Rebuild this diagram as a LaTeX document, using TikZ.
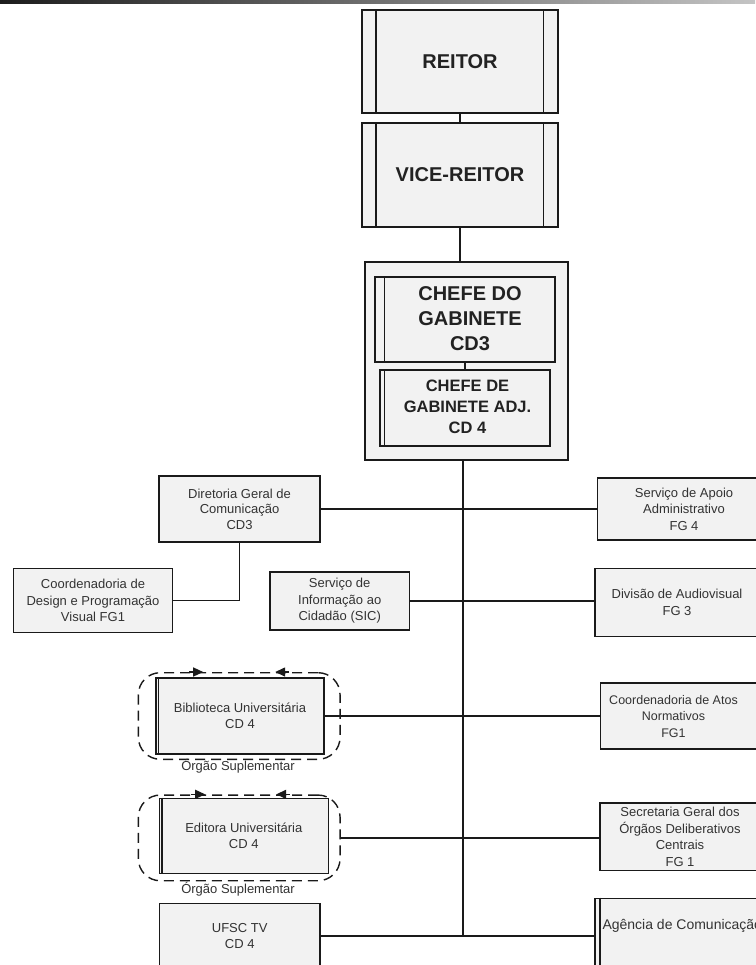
\documentclass[tikz,border=0pt]{standalone}
\usepackage{fontspec}
\setmainfont{Liberation Sans}
\usetikzlibrary{arrows.meta}
\definecolor{edge}{HTML}{1A1A1A}
\definecolor{boxfill}{HTML}{F2F2F2}
\definecolor{ink}{HTML}{333333}
\definecolor{inkdark}{HTML}{222222}
\definecolor{barleft}{HTML}{1C1C1C}
\definecolor{barright}{HTML}{C4C4C4}

\begin{document}
\begin{tikzpicture}[x=1pt,y=-1pt,
  box/.style={draw=edge, fill=boxfill, line width=1.4pt, inner sep=0pt, align=center,
              text=ink, font=\fontsize{13}{16.5}\selectfont},
  bigbox/.style={box, text=inkdark, font=\fontsize{20}{25}\selectfont\bfseries},
  bigtext/.style={inner sep=0pt, align=center, text=inkdark, font=\fontsize{20}{25}\selectfont\bfseries},
  midtext/.style={inner sep=0pt, align=center, text=inkdark, font=\fontsize{16.5}{21}\selectfont\bfseries},
  smalltext/.style={inner sep=0pt, align=center, text=ink, font=\fontsize{13}{16.5}\selectfont},
  wire/.style={draw=edge, line width=1.4pt},
  divider/.style={draw=edge, line width=1.4pt},
  suppl/.style={draw=edge, line width=1.4pt, dash pattern=on 10pt off 6pt,
                rounded corners=22pt, inner sep=0pt},
  flowtip/.style={draw=edge, line width=1.4pt, -{Triangle[length=10pt,width=9pt]}},
]
\useasboundingbox (0,0) rectangle (755,965);
\fill[white] (0,0) rectangle (755,965);
% title bar
\shade[left color=barleft, right color=barright] (0,0) rectangle (755,3.5);

% ---- top of the hierarchy ----
\node[bigbox, minimum width=196pt, minimum height=103pt] (reitor) at (460,61.5) {REITOR};
\draw[divider] ([xshift=14.7pt]reitor.north west) -- ([xshift=14.7pt]reitor.south west);
\draw[divider] ([xshift=-15pt]reitor.north east) -- ([xshift=-15pt]reitor.south east);

\node[bigbox, minimum width=196pt, minimum height=104pt] (vice) at (460,175) {VICE-REITOR};
\draw[divider] ([xshift=14.7pt]vice.north west) -- ([xshift=14.7pt]vice.south west);
\draw[divider] ([xshift=-15pt]vice.north east) -- ([xshift=-15pt]vice.south east);

% cabinet group
\node[box, minimum width=203pt, minimum height=198pt] (grp) at (466.5,361) {};
\node[box, minimum width=180pt, minimum height=85pt] (chefe) at (465,319.5) {};
\draw[divider] ([xshift=10pt]chefe.north west) -- ([xshift=10pt]chefe.south west);
\node[bigtext] (chefe-t) at (470,319) {CHEFE DO\\GABINETE\\CD3};

\node[box, minimum width=170pt, minimum height=76pt] (adj) at (465,408) {};
\draw[divider] ([xshift=5pt]adj.north west) -- ([xshift=5pt]adj.south west);
\node[midtext] (adj-t) at (467.5,407) {CHEFE DE\\GABINETE ADJ.\\CD 4};

\draw[wire] (reitor.south) -- (vice.north);
\draw[wire] (vice.south) -- (vice.south |- grp.north);
\draw[wire] (chefe.south) -- (adj.north);

% main trunk
\coordinate (trunkend) at (463,936);
\draw[wire] (grp.south -| trunkend) -- (trunkend);

% ---- communication directorate ----
\node[box, minimum width=161pt, minimum height=66pt,
      font=\fontsize{13}{15.5}\selectfont] (dir) at (239.5,509)
  {Diretoria Geral de\\Comunicação\\CD3};
\node[box, minimum width=159.4pt, minimum height=64.4pt] (cdes) at (93,600.5)
  {Coordenadoria de\\Design e Programação\\Visual FG1};
\node[box, minimum width=139.3pt, minimum height=58.3pt] (sic) at (339.7,601)
  {Serviço de\\Informação ao\\Cidadão (SIC)};

\node[box, minimum width=173.4pt, minimum height=61.7pt] (apoio) at (684,509)
  {Serviço de Apoio\\Administrativo\\FG 4};
\node[box, minimum width=164pt, minimum height=68.4pt] (audio) at (677,602.5)
  {Divisão de Audiovisual\\FG 3};

\draw[wire] (dir.east) -- (apoio.west);
\draw[wire] (dir.south) |- (cdes.east);
\draw[wire] (sic.east) -- (sic.east -| audio.west);

% ---- library ----
\node[suppl, minimum width=201.7pt, minimum height=86.6pt] (bibgrp) at (239.2,716) {};
\draw[flowtip] ([xshift=-50pt]bibgrp.north) -- ([xshift=-36pt]bibgrp.north);
\draw[flowtip] ([xshift=50pt]bibgrp.north) -- ([xshift=36pt]bibgrp.north);
\node[box, minimum width=168pt, minimum height=76pt] (bib) at (240,716)
  {Biblioteca Universitária\\CD 4};
\draw[divider] ([xshift=3.3pt]bib.north west) -- ([xshift=3.3pt]bib.south west);
\node[smalltext] (biblbl) at (238,766.7) {Órgão Suplementar};

\node[box, minimum width=160pt, minimum height=66pt] (atos) at (680.7,716) {};
\node[smalltext, font=\fontsize{12.5}{16.5}\selectfont] (atos-t) at (673.5,716.5)
  {Coordenadoria de Atos\\Normativos\\FG1};
\draw[wire] (bib.east) -- (atos.west);

% ---- university press ----
\node[suppl, minimum width=201.7pt, minimum height=85.7pt] (editgrp) at (239.2,837.9) {};
\draw[flowtip] ([xshift=-48pt]editgrp.north) -- ([xshift=-34pt]editgrp.north);
\draw[flowtip] ([xshift=51pt]editgrp.north) -- ([xshift=37pt]editgrp.north);
\node[box, minimum width=169pt, minimum height=75pt] (edit) at (243.8,835.8)
  {Editora Universitária\\CD 4};
\draw[divider] ([xshift=3.4pt]edit.north west) -- ([xshift=3.4pt]edit.south west);
\node[smalltext] (editlbl) at (238,889.3) {Órgão Suplementar};

\node[box, minimum width=160pt, minimum height=67.7pt] (sec) at (680,836.9)
  {Secretaria Geral dos\\Órgãos Deliberativos\\Centrais\\FG 1};
\draw[wire] (editgrp.east) -- (editgrp.east -| sec.west);

% ---- television and agency ----
\node[box, minimum width=160.7pt, minimum height=65.4pt] (tv) at (239.7,936)
  {UFSC TV\\CD 4};
\node[box, minimum width=165pt, minimum height=75.4pt] (agen) at (677.5,936) {};
\draw[divider] ([xshift=5.7pt]agen.north west) -- ([xshift=5.7pt]agen.south west);
\node[smalltext, anchor=west, font=\fontsize{14}{16.5}\selectfont] (agen-t) at (602.3,926)
  {Agência de Comunicação};
\draw[wire] (tv.east) -- (agen.west);
\end{tikzpicture}
\end{document}
